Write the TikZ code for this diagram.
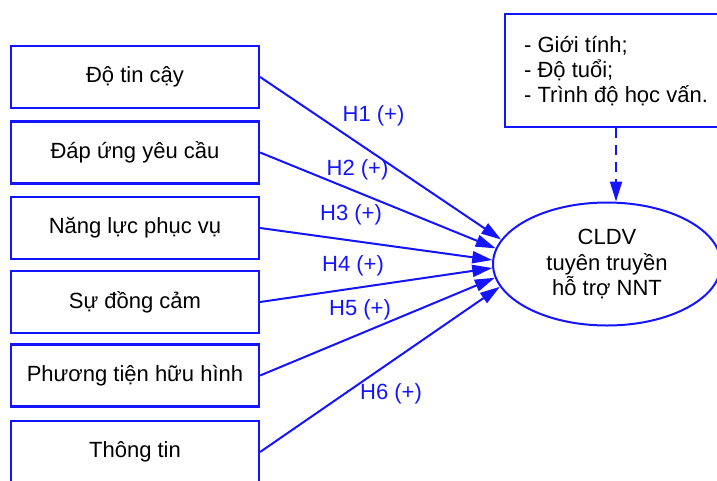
\documentclass[tikz,border=0pt]{standalone}
\usepackage{fontspec}
\setmainfont{Liberation Sans}
\usetikzlibrary{shapes.geometric,arrows.meta}
\definecolor{modelblue}{RGB}{20,20,255}
\tikzset{%
    factor/.style={rectangle, draw=modelblue, line width=2.2pt, fill=white,
        minimum width=248pt, minimum height=62pt, inner sep=0pt,
        font=\fontsize{22}{26}\selectfont},
    hyp/.style={text=modelblue, inner sep=0pt, font=\fontsize{22}{26}\selectfont},
    link/.style={draw=modelblue, line width=2pt,
        -{Triangle[length=20pt, width=12pt]}}
}

\begin{document}
\begin{tikzpicture}[x=1pt, y=-1pt]
  \useasboundingbox (0, 0) rectangle (717, 480);
  \clip (0, 0) rectangle (717, 480);

  \node (f1) [factor] at (135, 77) {Độ tin cậy};
  \node (f2) [factor] at (135, 152.5) {Đáp ứng yêu cầu};
  \node (f3) [factor] at (135, 228) {Năng lực phục vụ};
  \node (f4) [factor] at (135, 302) {Sự đồng cảm};
  \node (f5) [factor] at (135, 375.5) {Phương tiện hữu hình};
  \node (f6) [factor] at (135, 452) {Thông tin};

  \node (cl) [ellipse, draw=modelblue, line width=2pt, inner sep=0pt,
    minimum width=228pt, minimum height=123pt, align=center,
    font=\fontsize{22}{25.5}\selectfont] at (607, 264)
    {CLDV\\tuyên truyền\\hỗ trợ NNT};

  \node (mod) [rectangle, draw=modelblue, line width=2.2pt, anchor=north west,
    inner xsep=19pt, minimum height=113pt, align=left,
    font=\fontsize{22}{25}\selectfont] at (504, 13)
    {- Giới tính;\\- Độ tuổi;\\- Trình độ học vấn.};

  \node (h1) [hyp] at (373.5, 116) {H1 (+)};
  \node (h2) [hyp] at (357.5, 170) {H2 (+)};
  \node (h3) [hyp] at (351, 215) {H3 (+)};
  \node (h4) [hyp] at (353, 266) {H4 (+)};
  \node (h5) [hyp] at (360, 309.5) {H5 (+)};
  \node (h6) [hyp] at (391, 393.5) {H6 (+)};

  \draw [link] (f1.east) -- (cl.167.8);
  \draw [link] (f2.east) -- (cl.172.8);
  \draw [link] (f3.east) -- (cl.178);
  \draw [link] (f4.east) -- (cl.182);
  \draw [link] (f5.east) -- (cl.187.2);
  \draw [link] (f6.east) -- (cl.192.2);

  \draw [link, dash pattern=on 10pt off 7pt] (mod.south) -- (mod.south |- cl.north);
\end{tikzpicture}
\end{document}
